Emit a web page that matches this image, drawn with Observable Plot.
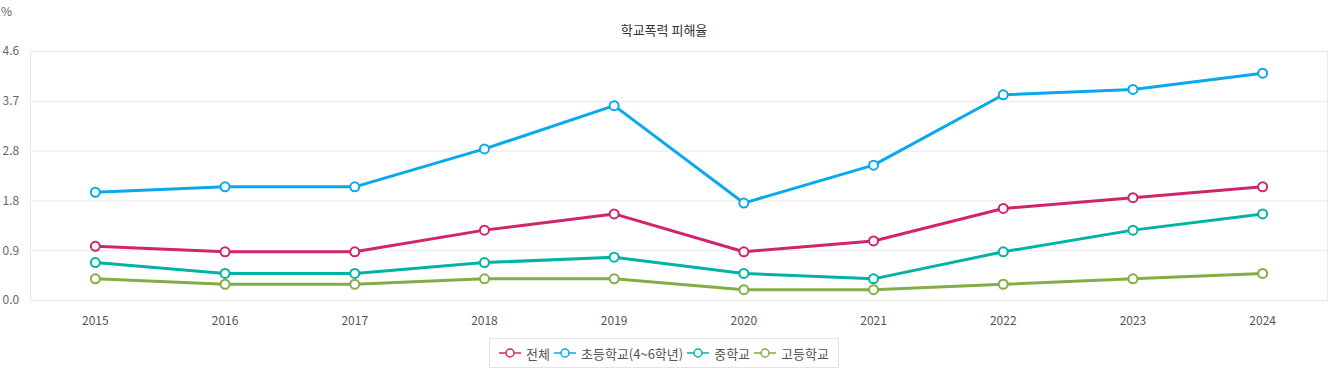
<!DOCTYPE html>
<html><head><meta charset="utf-8">
<script src="https://cdn.jsdelivr.net/npm/d3@7"></script>
<script src="https://cdn.jsdelivr.net/npm/@observablehq/plot@0.6"></script>
<style>
body{margin:0;background:#fff;font-family:"Noto Sans CJK KR","Noto Sans",sans-serif;}
#wrap{position:relative;width:1328px;height:370px;}
#unit{position:absolute;left:1px;top:2px;font-size:12px;color:#666;}
#title{position:absolute;left:0;width:1328px;top:20px;text-align:center;font-size:13px;color:#333;}
#chart{position:absolute;left:0;top:0;}
#legend{position:absolute;left:489px;top:338px;width:350px;height:30px;border:1px solid #e3e3e3;display:flex;align-items:center;justify-content:center;font-size:13px;color:#555;box-sizing:border-box;}
#legend .it{display:flex;align-items:center;margin:0 2px;}
#legend svg{margin-right:5px;}
</style></head>
<body><div id="wrap"><div id="chart"></div><div id="unit">%</div><div id="title">학교폭력 피해율</div><div id="legend"></div></div>
<script>
const years = [2015,2016,2017,2018,2019,2020,2021,2022,2023,2024];
const seriesNames = ["전체","초등학교(4~6학년)","중학교","고등학교"];
const colors = ["#d0246b","#0aa8ec","#00b3a4","#84ae45"];
const total = [1.0,0.9,0.9,1.3,1.6,0.9,1.1,1.7,1.9,2.1];
const elementary = [2.0,2.1,2.1,2.8,3.6,1.8,2.5,3.8,3.9,4.2];
const middle = [0.7,0.5,0.5,0.7,0.8,0.5,0.4,0.9,1.3,1.6];
const high = [0.4,0.3,0.3,0.4,0.4,0.2,0.2,0.3,0.4,0.5];
const yTicks = [0,0.92,1.84,2.76,3.68,4.6];

const all = [total, elementary, middle, high];
const data = [];
all.forEach((arr,si)=>arr.forEach((v,i)=>data.push({year:String(years[i]), value:v, series:seriesNames[si]})));

const chart = Plot.plot({
  width:1328, height:330,
  marginLeft:30, marginRight:1, marginTop:51, marginBottom:30,
  style:{fontFamily:'"Noto Sans CJK KR","Noto Sans",sans-serif', fontSize:"12px", color:"#666", background:"transparent"},
  x:{type:"point", domain:years.map(String), padding:0.5, round:false},
  y:{domain:[0,4.6]},
  color:{domain:seriesNames, range:colors},
  marks:[
    Plot.gridY(yTicks,{stroke:"#e8e8e8", strokeOpacity:1}),
    Plot.frame({stroke:"#e8e8e8"}),
    Plot.axisY(yTicks,{tickSize:0, tickFormat:d=>d3.format(".1f")(d), textAnchor:"start", dx:-28, tickPadding:0, label:null, fill:"#666", fontSize:12}),
    Plot.axisX({tickSize:0, tickPadding:16, label:null, fill:"#555", fontSize:12}),
    Plot.line(data,{x:"year", y:"value", z:"series", stroke:"series", strokeWidth:3}),
    Plot.dot(data,{x:"year", y:"value", stroke:"series", fill:"white", r:4.5, strokeWidth:2})
  ]
});
document.getElementById("chart").appendChild(chart);

const lg = document.getElementById("legend");
seriesNames.forEach((n,i)=>{
  const it = document.createElement("div"); it.className="it";
  it.innerHTML = `<svg width="22" height="12"><line x1="0" x2="22" y1="6" y2="6" stroke="${colors[i]}" stroke-width="1.5"/><circle cx="11" cy="6" r="4" fill="white" stroke="${colors[i]}" stroke-width="1.5"/></svg><span>${n}</span>`;
  lg.appendChild(it);
});
</script></body></html>
